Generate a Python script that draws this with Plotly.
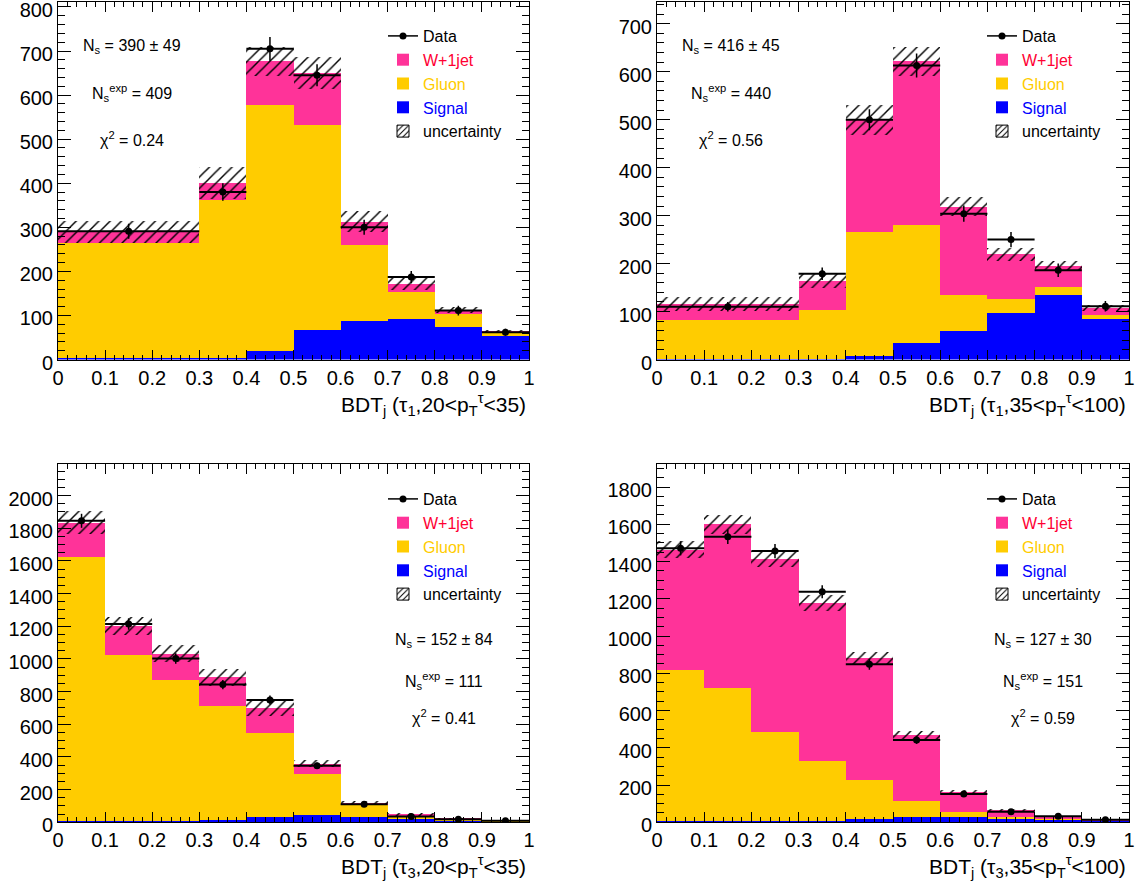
import numpy as np
import plotly.graph_objects as go

# ---------------- data ----------------
edges_tau1 = [0.0, 0.3, 0.4, 0.5, 0.6, 0.7, 0.8, 0.9, 1.0]
edges_tau3 = [0.0, 0.1, 0.2, 0.3, 0.4, 0.5, 0.6, 0.7, 0.8, 0.9, 1.0]

# panel 1 : tau1, 20 < pT < 35
p1_signal = [3, 5, 20, 68, 89, 93, 74, 53]
p1_gluon = [263, 357, 558, 465, 171, 62, 30, 10]
p1_wjet = [24, 39, 99, 118, 53, 18, 9, 2]
p1_unc = [24, 36, 32, 36, 24, 14, 6, 3]
p1_data = [291, 380, 705, 645, 300, 187, 111, 62]
p1_data_err = [17, 20, 27, 25, 17, 14, 11, 8]

# panel 2 : tau1, 35 < pT < 100
p2_signal = [2, 2, 8, 35, 60, 97, 136, 85]
p2_gluon = [81, 102, 258, 246, 75, 30, 15, 9]
p2_wjet = [33, 61, 234, 341, 184, 93, 45, 14]
p2_unc = [15, 16, 31, 31, 20, 13, 9, 7]
p2_data = [110, 179, 500, 613, 304, 250, 186, 111]
p2_data_err = [10, 13, 22, 25, 17, 16, 14, 11]

# panel 3 : tau3, 20 < pT < 35
p3_signal = [5, 4, 8, 14, 29, 45, 31, 16, 10, 6]
p3_gluon = [1616, 1020, 862, 698, 513, 250, 72, 17, 4, 2]
p3_wjet = [212, 175, 161, 174, 154, 61, 14, 13, 5, 2]
p3_unc = [70, 55, 53, 51, 46, 22, 12, 7, 3, 2]
p3_data = [1846, 1214, 1003, 843, 749, 347, 111, 36, 18, 10]
p3_data_err = [43, 35, 32, 29, 27, 19, 11, 6, 4, 3]

# panel 4 : tau3, 35 < pT < 100
p4_signal = [4, 6, 6, 8, 16, 27, 25, 18, 12, 8]
p4_gluon = [810, 713, 479, 321, 211, 88, 29, 9, 6, 2]
p4_wjet = [648, 880, 926, 847, 654, 352, 108, 36, 12, 5]
p4_unc = [45, 51, 42, 45, 31, 20, 10, 6, 4, 2]
p4_data = [1471, 1533, 1456, 1238, 848, 442, 152, 57, 32, 14]
p4_data_err = [38, 39, 38, 35, 29, 21, 12, 8, 6, 4]

x_titles = [
    "BDT<sub>j</sub> (τ<sub>1</sub>,20&lt;p<sub>T</sub><sup>τ</sup>&lt;35)",
    "BDT<sub>j</sub> (τ<sub>1</sub>,35&lt;p<sub>T</sub><sup>τ</sup>&lt;100)",
    "BDT<sub>j</sub> (τ<sub>3</sub>,20&lt;p<sub>T</sub><sup>τ</sup>&lt;35)",
    "BDT<sub>j</sub> (τ<sub>3</sub>,35&lt;p<sub>T</sub><sup>τ</sup>&lt;100)",
]
fit_ns = ["390 ± 49", "416 ± 45", "152 ± 84", "127 ± 30"]
fit_nexp = ["409", "440", "111", "151"]
fit_chi2 = ["0.24", "0.56", "0.41", "0.59"]
y_max = [812, 746, 2192, 1922]
y_dtick = [100, 100, 200, 200]
y_minor = [20, 20, 50, 50]

# ---------------- styling ----------------
W, H = 1137, 884
FONT = "Liberation Sans, Arial, Helvetica, sans-serif"
C_SIG = "#0000ff"
C_GLU = "#ffcc00"
C_WJ = "#ff3399"
C_WJ_TXT = "#ff0033"

def px(xp):
    return xp / W

def py(yp):
    return 1 - yp / H

frames = [
    ((58, 529), (1.7, 359.5)),
    ((657, 1129), (1.7, 359.5)),
    ((58, 529), (464.3, 822.3)),
    ((657, 1129), (464.3, 822.3)),
]

panels = [
    (edges_tau1, p1_signal, p1_gluon, p1_wjet, p1_unc, p1_data, p1_data_err),
    (edges_tau1, p2_signal, p2_gluon, p2_wjet, p2_unc, p2_data, p2_data_err),
    (edges_tau3, p3_signal, p3_gluon, p3_wjet, p3_unc, p3_data, p3_data_err),
    (edges_tau3, p4_signal, p4_gluon, p4_wjet, p4_unc, p4_data, p4_data_err),
]

fig = go.Figure()
layout = dict(
    width=W, height=H,
    margin=dict(l=0, r=0, t=0, b=0),
    paper_bgcolor="white", plot_bgcolor="white",
    barmode="overlay", bargap=0,
    font=dict(family=FONT, color="black", size=16),
    showlegend=True,
)
annotations = []

for i, (edges, sig, glu, wj, unc, dat, derr) in enumerate(panels):
    n = i + 1
    xa = "x" if n == 1 else f"x{n}"
    ya = "y" if n == 1 else f"y{n}"
    lg = "legend" if n == 1 else f"legend{n}"
    e = np.array(edges, dtype=float)
    centers = (e[:-1] + e[1:]) / 2
    widths = np.diff(e)
    sig = np.array(sig, float)
    glu = np.array(glu, float)
    wj = np.array(wj, float)
    unc = np.array(unc, float)
    total = sig + glu + wj

    common = dict(xaxis=xa, yaxis=ya, legend=lg, hoverinfo="skip")

    # legend proxy for data (line + marker)
    fig.add_trace(go.Scatter(
        x=[None], y=[None], mode="lines+markers", name="Data",
        line=dict(color="black", width=1.5),
        marker=dict(color="black", size=7, symbol="circle"),
        legendrank=1, **common))

    fig.add_trace(go.Bar(
        x=centers, y=sig, base=np.zeros_like(sig), width=widths,
        marker=dict(color=C_SIG, line=dict(width=0)),
        name=f'<span style="color:{C_SIG}">Signal</span>',
        legendrank=4, **common))
    fig.add_trace(go.Bar(
        x=centers, y=glu, base=sig, width=widths,
        marker=dict(color=C_GLU, line=dict(width=0)),
        name=f'<span style="color:{C_GLU}">Gluon</span>',
        legendrank=3, **common))
    fig.add_trace(go.Bar(
        x=centers, y=wj, base=sig + glu, width=widths,
        marker=dict(color=C_WJ, line=dict(width=0)),
        name=f'<span style="color:{C_WJ_TXT}">W+1jet</span>',
        legendrank=2, **common))

    # uncertainty hatched band
    fig.add_trace(go.Bar(
        x=centers, y=2 * unc, base=total - unc, width=widths,
        marker=dict(color="rgba(0,0,0,0)", line=dict(width=0),
                    pattern=dict(shape="/", fgcolor="black",
                                 bgcolor="rgba(0,0,0,0)", size=8,
                                 solidity=0.18, fillmode="replace")),
        name="uncertainty", showlegend=False, **common))
    # legend proxy for uncertainty (outlined hatch box)
    fig.add_trace(go.Bar(
        x=[None], y=[None],
        marker=dict(color="rgba(0,0,0,0)", line=dict(width=1, color="black"),
                    pattern=dict(shape="/", fgcolor="black",
                                 bgcolor="rgba(0,0,0,0)", size=5,
                                 solidity=0.25, fillmode="replace")),
        name="uncertainty", legendrank=5, **common))

    # data points
    fig.add_trace(go.Scatter(
        x=centers, y=dat, mode="markers", name="Data", showlegend=False,
        marker=dict(color="black", size=7, symbol="circle"),
        error_y=dict(type="data", array=derr, thickness=1.5, width=0, color="black"),
        error_x=dict(type="data", array=widths / 2, thickness=2, width=0, color="black"),
        **common))

    (x0, x1), (y0, y1) = frames[i]
    xkey = "xaxis" if n == 1 else f"xaxis{n}"
    ykey = "yaxis" if n == 1 else f"yaxis{n}"
    layout[xkey] = dict(
        domain=[px(x0), px(x1)], anchor=ya, range=[0, 1],
        dtick=0.1, tick0=0, ticks="inside", ticklen=10, tickwidth=1, tickcolor="black",
        minor=dict(dtick=0.02, tick0=0, ticks="inside", ticklen=5, tickwidth=1, tickcolor="black"),
        showline=True, linecolor="black", linewidth=1, mirror="allticks",
        showgrid=False, zeroline=False, automargin=False,
        ticklabeloverflow="allow",
        tickfont=dict(family=FONT, size=20, color="black"),
    )
    layout[ykey] = dict(
        domain=[py(y1), py(y0)], anchor=xa, range=[0, y_max[i]],
        dtick=y_dtick[i], tick0=0, ticks="inside", ticklen=13, tickwidth=1, tickcolor="black",
        minor=dict(dtick=y_minor[i], tick0=0, ticks="inside", ticklen=7, tickwidth=1, tickcolor="black"),
        showline=True, linecolor="black", linewidth=1, mirror="allticks",
        showgrid=False, zeroline=False, automargin=False,
        ticklabeloverflow="allow", ticklabelshift=3,
        tickfont=dict(family=FONT, size=20, color="black"),
    )

    dx = 0 if n in (1, 3) else 599
    top = n in (1, 2)
    layout[lg] = dict(
        x=px(383 + dx), y=py(19 if top else 482), xanchor="left", yanchor="top",
        bgcolor="rgba(0,0,0,0)", borderwidth=0, tracegroupgap=0,
        itemwidth=30, traceorder="normal",
        font=dict(family=FONT, size=16, color="black"),
    )

    # fit results text
    if top:
        tx, tys = 132 + dx, (46, 93, 139)
    else:
        tx, tys = 444 + dx, (640, 681, 717)
    texts = [f"N<sub>s</sub> = {fit_ns[i]}",
             f"N<sub>s</sub><sup>exp</sup> = {fit_nexp[i]}",
             f"χ<sup>2</sup> = {fit_chi2[i]}"]
    for t, ty in zip(texts, tys):
        annotations.append(dict(
            text=t, x=px(tx), y=py(ty), xref="paper", yref="paper",
            xanchor="center", yanchor="middle", showarrow=False,
            font=dict(family=FONT, size=16, color="black")))

    # x-axis title, right aligned
    annotations.append(dict(
        text=x_titles[i], x=px(x1 - 1), y=py(405 if top else 866),
        xref="paper", yref="paper", xanchor="right", yanchor="middle",
        showarrow=False, font=dict(family=FONT, size=21, color="black")))

layout["annotations"] = annotations
fig.update_layout(**layout)
fig.write_html("out.html", config={"displayModeBar": False},
               post_script="document.body.style.margin='0px';")
